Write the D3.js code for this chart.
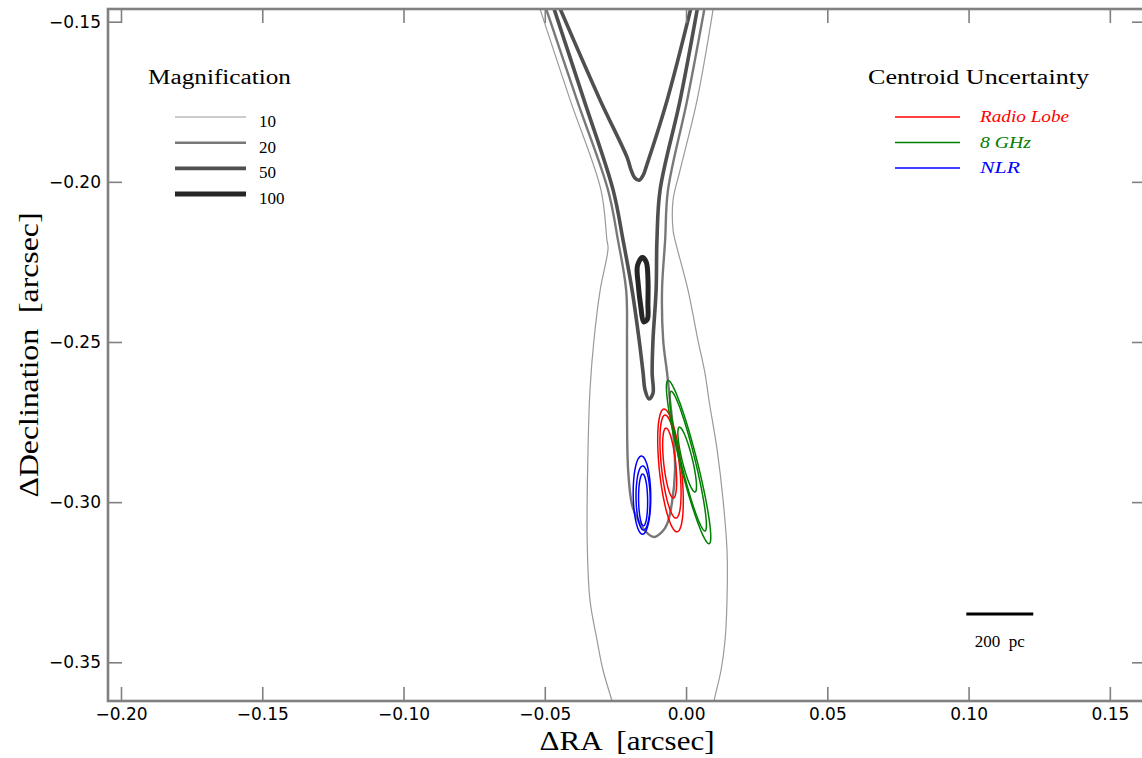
<!DOCTYPE html>
<html>
<head>
<meta charset="utf-8">
<script src="https://cdn.jsdelivr.net/npm/d3@7"></script>
<style>
  body { margin: 0; background: #fff; }
  svg { display: block; }
</style>
</head>
<body>
<svg id="chart" width="1142" height="758"></svg>
<script>
// tick values (arcsec)
const raTicks = [-0.20, -0.15, -0.10, -0.05, 0.00, 0.05, 0.10, 0.15];
const decTicks = [-0.15, -0.20, -0.25, -0.30, -0.35];

// magnification contours, [dRA, dDec] in arcsec
const mag10Left = [[-0.0519,-0.1455],[-0.0410,-0.1745],[-0.0301,-0.2026],[-0.0280,-0.2182],[-0.0276,-0.2207],
  [-0.0304,-0.2338],[-0.0326,-0.2494],[-0.0340,-0.2650],[-0.0347,-0.2837],[-0.0350,-0.3118],[-0.0340,-0.3306],
  [-0.0315,-0.3431],[-0.0294,-0.3524],[-0.0262,-0.3621],[-0.0255,-0.3645]];
const mag10Right = [[0.0097,-0.1455],[0.0039,-0.1745],[-0.0021,-0.1963],[-0.0046,-0.2057],[-0.0046,-0.2150],
  [-0.0039,-0.2182],[0.0007,-0.2338],[0.0042,-0.2494],[0.0067,-0.2597],[0.0081,-0.2681],[0.0110,-0.2837],
  [0.0131,-0.2993],[0.0145,-0.3150],[0.0145,-0.3306],[0.0138,-0.3431],[0.0124,-0.3524],[0.0099,-0.3621],[0.0095,-0.3645]];
const mag20 = [[-0.0497,-0.1455],[-0.0386,-0.1745],[-0.0276,-0.2026],[-0.0241,-0.2182],[-0.0212,-0.2338],
  [-0.0209,-0.2494],[-0.0209,-0.2681],[-0.0205,-0.2900],[-0.0191,-0.3009],[-0.0170,-0.3056],[-0.0145,-0.3090],
  [-0.0113,-0.3109],[-0.0085,-0.3093],[-0.0067,-0.3068],[-0.0050,-0.3003],[-0.0039,-0.2900],[-0.0046,-0.2775],
  [-0.0057,-0.2681],[-0.0067,-0.2597],[-0.0081,-0.2494],[-0.0085,-0.2338],[-0.0074,-0.2182],[-0.0064,-0.2026],
  [0.0004,-0.1745],[0.0066,-0.1455]];
const mag50Outer = [[-0.0469,-0.1455],[-0.0361,-0.1745],[-0.0258,-0.2026],[-0.0223,-0.2182],[-0.0191,-0.2338],
  [-0.0166,-0.2494],[-0.0152,-0.2597],[-0.0145,-0.2650],[-0.0131,-0.2678],[-0.0117,-0.2660],[-0.0120,-0.2597],
  [-0.0117,-0.2494],[-0.0106,-0.2338],[-0.0103,-0.2182],[-0.0092,-0.2026],[-0.0021,-0.1745],[0.0041,-0.1455]];
const mag50Inner = [[-0.0448,-0.1455],[-0.0304,-0.1745],[-0.0208,-0.1925],[-0.0195,-0.1962],[-0.0181,-0.1988],
  [-0.0166,-0.1995],[-0.0152,-0.1980],[-0.0140,-0.1950],[-0.0067,-0.1745],[0.0018,-0.1455]];
const mag100 = [[-0.0155,-0.2236],[-0.0141,-0.2250],[-0.0135,-0.2300],[-0.0135,-0.2380],[-0.0137,-0.2429],
  [-0.0150,-0.2437],[-0.0160,-0.2390],[-0.0169,-0.2322],[-0.0172,-0.2262]];

// centroid uncertainty ellipses: centre, semi-minor a, semi-major b (arcsec), tilt (deg)
const radioLobe = [
  {ra: -0.0055, dec: -0.2901, a: 0.0039, b: 0.0193, tilt: 7},
  {ra: -0.0055, dec: -0.2889, a: 0.0032, b: 0.0162, tilt: 7},
  {ra: -0.0058, dec: -0.2878, a: 0.0021, b: 0.0110, tilt: 7}
];
const ghz8 = [
  {ra: 0.0009, dec: -0.2875, a: 0.0030, b: 0.0265, tilt: 16},
  {ra: 0.0007, dec: -0.2872, a: 0.0025, b: 0.0226, tilt: 15.5},
  {ra: 0.0004, dec: -0.2867, a: 0.0018, b: 0.0105, tilt: 15.5}
];
const nlr = [
  {ra: -0.0156, dec: -0.2978, a: 0.0031, b: 0.0122, tilt: 1},
  {ra: -0.0152, dec: -0.2987, a: 0.0025, b: 0.0100, tilt: 1},
  {ra: -0.0152, dec: -0.2993, a: 0.0016, b: 0.0081, tilt: 1}
];

const magLevels = ['10', '20', '50', '100'];
const magColors = ['#9a9a9a', '#787878', '#4f4f4f', '#262626'];
const magWidths = [1.2, 2.4, 3.6, 5];

const centroidNames = ['Radio Lobe', '8 GHz', 'NLR'];
const centroidColors = ['#ff0000', '#008000', '#0000ff'];

const scaleBarLength = 0.0237; // 200 pc in arcsec

const svg = d3.select('#chart');
const x = d3.scaleLinear().domain([-0.2046, 0.1628]).range([108, 1146]);
const y = d3.scaleLinear().domain([-0.14604, -0.36208]).range([9, 701]);

svg.append('defs').append('clipPath').attr('id', 'plotclip')
  .append('rect')
  .attr('x', x.range()[0]).attr('y', y.range()[0])
  .attr('width', x.range()[1] - x.range()[0])
  .attr('height', y.range()[1] - y.range()[0]);

const plot = svg.append('g').attr('clip-path', 'url(#plotclip)');

const line = d3.line().x((d) => x(d[0])).y((d) => y(d[1])).curve(d3.curveCatmullRom.alpha(0.5));
const loop = d3.line().x((d) => x(d[0])).y((d) => y(d[1])).curve(d3.curveCatmullRomClosed.alpha(0.5));

const contours = [
  {pts: mag10Left, lvl: 0}, {pts: mag10Right, lvl: 0},
  {pts: mag20, lvl: 1}, {pts: mag50Outer, lvl: 2}, {pts: mag50Inner, lvl: 2}
];
contours.forEach((c) => {
  plot.append('path')
    .attr('d', line(c.pts))
    .attr('fill', 'none')
    .attr('stroke', magColors[c.lvl])
    .attr('stroke-width', magWidths[c.lvl]);
});
plot.append('path')
  .attr('d', loop(mag100))
  .attr('fill', 'none')
  .attr('stroke', magColors[3])
  .attr('stroke-width', magWidths[3]);

function ellipse(e) {
  const phi = e.tilt * Math.PI / 180;
  return d3.range(0, 72).map((i) => {
    const t = i / 72 * 2 * Math.PI;
    const u = e.a * Math.cos(t), v = e.b * Math.sin(t);
    return [e.ra + u * Math.cos(phi) - v * Math.sin(phi), e.dec + u * Math.sin(phi) + v * Math.cos(phi)];
  });
}

[radioLobe, ghz8, nlr].forEach((set, k) => {
  set.forEach((e) => {
    plot.append('path')
      .attr('d', loop(ellipse(e)))
      .attr('fill', 'none')
      .attr('stroke', centroidColors[k])
      .attr('stroke-width', 1.5);
  });
});

// axes, ticks pointing inward
const fmt = d3.format('.2f');
const axes = [
  {ax: d3.axisBottom(x).tickValues(raTicks).tickFormat(fmt), t: `translate(0,${y.range()[1]})`},
  {ax: d3.axisTop(x).tickValues(raTicks).tickFormat(''), t: `translate(0,${y.range()[0]})`},
  {ax: d3.axisLeft(y).tickValues(decTicks).tickFormat(fmt), t: `translate(${x.range()[0]},0)`},
  {ax: d3.axisRight(y).tickValues(decTicks).tickFormat(''), t: `translate(${x.range()[1]},0)`}
];
axes.forEach((a) => {
  const g = svg.append('g').attr('transform', a.t)
    .call(a.ax.tickSize(-14).tickPadding(7));
  g.select('.domain').remove();
  g.selectAll('.tick line').attr('stroke', '#808080').attr('stroke-width', 1.6);
  g.selectAll('.tick text')
    .attr('font-family', 'DejaVu Sans')
    .attr('font-size', 17)
    .attr('fill', '#000');
});

svg.append('rect')
  .attr('x', x.range()[0]).attr('y', y.range()[0])
  .attr('width', x.range()[1] - x.range()[0])
  .attr('height', y.range()[1] - y.range()[0])
  .attr('fill', 'none')
  .attr('stroke', '#808080')
  .attr('stroke-width', 2.6);

// axis titles
svg.append('text')
  .attr('x', 627).attr('y', 750)
  .attr('text-anchor', 'middle')
  .attr('font-family', 'Liberation Serif')
  .attr('font-size', 28)
  .attr('textLength', 175).attr('lengthAdjust', 'spacingAndGlyphs')
  .attr('xml:space', 'preserve')
  .text('\u0394RA  [arcsec]');

svg.append('text')
  .attr('transform', 'translate(38,355) rotate(-90)')
  .attr('text-anchor', 'middle')
  .attr('font-family', 'Liberation Serif')
  .attr('font-size', 28)
  .attr('textLength', 285).attr('lengthAdjust', 'spacingAndGlyphs')
  .attr('xml:space', 'preserve')
  .text('\u0394Declination  [arcsec]');

// magnification legend
const magLegend = svg.append('g');
magLegend.append('text')
  .attr('x', 148).attr('y', 84)
  .attr('font-family', 'Liberation Serif').attr('font-size', 20)
  .attr('textLength', 143).attr('lengthAdjust', 'spacingAndGlyphs')
  .text('Magnification');
magLevels.forEach((lv, i) => {
  const ly = 117 + i * 25.7;
  magLegend.append('line')
    .attr('x1', 175).attr('x2', 246).attr('y1', ly).attr('y2', ly)
    .attr('stroke', magColors[i]).attr('stroke-width', magWidths[i]);
  magLegend.append('text')
    .attr('x', 259).attr('y', ly + 10)
    .attr('font-family', 'Liberation Serif').attr('font-size', 17)
    .text(lv);
});

// centroid legend
const cLegend = svg.append('g');
cLegend.append('text')
  .attr('x', 868).attr('y', 84)
  .attr('font-family', 'Liberation Serif').attr('font-size', 20)
  .attr('textLength', 221).attr('lengthAdjust', 'spacingAndGlyphs')
  .text('Centroid Uncertainty');
const cLabelWidths = [89, 51, 40];
centroidNames.forEach((nm, i) => {
  const ly = 117 + i * 25.5;
  cLegend.append('line')
    .attr('x1', 895).attr('x2', 960).attr('y1', ly).attr('y2', ly)
    .attr('stroke', centroidColors[i]).attr('stroke-width', 1.5);
  cLegend.append('text')
    .attr('x', 980).attr('y', ly + 5)
    .attr('font-family', 'Liberation Serif').attr('font-size', 17)
    .attr('font-style', 'italic')
    .attr('fill', centroidColors[i])
    .attr('textLength', cLabelWidths[i]).attr('lengthAdjust', 'spacingAndGlyphs')
    .text(nm);
});

// scale bar
const sbStart = 0.0992;
const sbDec = -0.3349;
svg.append('line')
  .attr('x1', x(sbStart)).attr('x2', x(sbStart + scaleBarLength))
  .attr('y1', y(sbDec)).attr('y2', y(sbDec))
  .attr('stroke', '#000').attr('stroke-width', 3);
svg.append('text')
  .attr('x', x(sbStart + scaleBarLength / 2)).attr('y', 647)
  .attr('text-anchor', 'middle')
  .attr('font-family', 'Liberation Serif').attr('font-size', 17)
  .attr('xml:space', 'preserve')
  .text('200  pc');
</script>
</body>
</html>
